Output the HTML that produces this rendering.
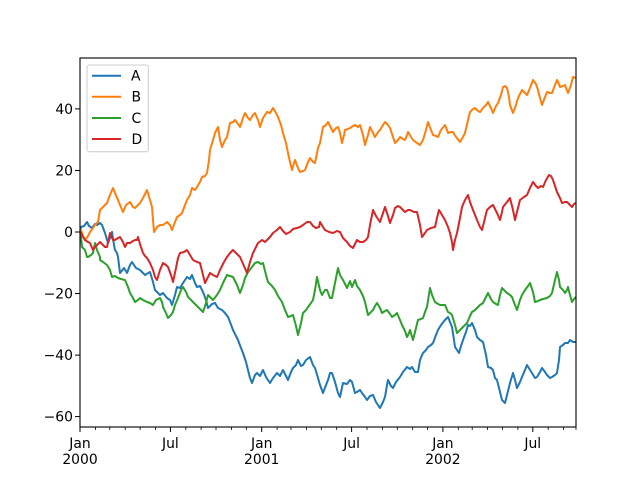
<!DOCTYPE html>
<html><head><meta charset="utf-8"><style>
html,body{margin:0;padding:0;background:#fff;}
svg{display:block;}
text{font-family:"DejaVu Sans","Liberation Sans",sans-serif;font-size:13.9px;fill:#000;}
</style></head><body>
<svg width="640" height="480" viewBox="0 0 640 480" xmlns="http://www.w3.org/2000/svg">
<defs><clipPath id="ax"><rect x="80" y="58" width="496" height="369"/></clipPath></defs>
<rect width="640" height="480" fill="#fff"/>
<g clip-path="url(#ax)" fill="none" stroke-width="2" stroke-linejoin="round" stroke-linecap="square">
<polyline stroke="#1f77b4" points="80,232 81,227 84,226 87,222 89,226 92,228 95,224 97,225 100,223 102,225 105,233 108,243 110,238 112,232 114,245 115,250 117,253 118,257 120,273 124,268 127,273 130,265 132,262 136,268 140,270 143,273 145,275 150,272 153,282 155,290 160,295 163,293 167,298 170,300 172,305 175,295 177,287 180,288 183,283 187,277 190,279 192,275 195,283 197,287 200,286 203,292 206,300 208,308 212,304 215,303 218,308 222,310 225,313 228,317 230,322 233,330 236,336 238,340 241,348 243,353 246,362 248,370 250,378 252,383 255,375 257,373 260,376 263,370 266,377 270,383 273,378 277,373 280,376 283,370 286,376 288,380 291,372 293,368 296,365 298,360 301,366 303,365 306,360 310,357 313,365 315,368 318,378 320,385 323,393 326,385 328,380 330,373 332,373 335,382 338,393 340,397 343,383 347,384 350,380 352,382 355,393 357,392 360,390 362,393 365,397 367,400 370,396 373,395 376,402 380,408 383,402 385,397 387,385 388,380 391,386 393,388 396,382 400,377 403,372 407,367 410,369 412,367 415,372 418,372 420,360 423,353 426,350 428,347 431,345 433,343 436,335 438,330 441,325 445,320 448,317 450,322 452,327 454,340 455,347 457,350 459,353 461,346 463,340 466,332 468,325 470,326 472,323 475,330 477,337 480,340 483,342 486,355 488,367 491,368 493,370 495,378 497,380 500,392 502,400 505,403 507,395 510,383 513,373 515,380 517,388 520,382 522,377 525,370 527,365 530,370 532,373 535,378 537,377 540,372 542,368 545,372 547,375 550,378 552,377 555,375 557,373 559,360 560,347 563,345 565,343 568,343 570,340 573,342 576,342"/>
<polyline stroke="#ff7f0e" points="80,232 81,230 83,236 85,240 88,236 90,232 93,228 95,225 98,222 100,210 103,207 107,203 110,195 113,188 115,193 118,200 120,205 123,212 126,205 130,202 133,207 135,208 138,205 140,203 143,198 147,190 150,200 152,207 153,220 154,232 157,227 160,225 163,225 167,222 170,225 172,230 175,222 177,217 180,215 182,213 185,205 187,200 190,195 192,188 195,190 197,187 200,182 202,177 205,176 207,173 209,160 210,150 213,140 215,133 218,127 220,140 222,147 225,140 227,137 229,128 230,123 233,122 235,120 238,124 240,127 243,118 245,113 248,118 250,120 253,115 255,113 258,120 260,127 263,118 267,112 270,113 273,108 276,113 278,117 281,125 283,133 286,143 288,153 290,162 292,170 294,163 295,160 298,168 300,172 303,171 305,170 308,162 310,158 313,162 315,163 318,148 320,143 323,127 326,125 328,122 331,128 333,132 336,128 338,127 340,133 342,143 344,135 345,130 348,129 350,128 353,126 355,125 358,127 360,125 363,135 365,145 368,135 370,127 373,133 375,137 378,132 380,130 383,125 385,122 388,125 390,128 393,137 395,143 398,140 400,137 403,139 405,140 407,135 408,132 411,137 413,140 417,143 420,145 423,140 426,130 428,122 431,130 433,135 436,136 438,137 441,130 445,125 447,130 448,133 451,132 453,132 456,137 460,142 463,137 465,133 468,120 470,112 473,109 475,108 478,111 480,112 483,108 486,105 488,102 491,108 493,113 496,106 498,103 501,95 503,87 505,86 507,88 509,97 510,105 513,113 516,105 518,98 520,94 522,90 525,93 527,95 530,88 533,80 536,84 538,90 540,98 542,105 545,97 547,92 550,93 552,93 555,85 557,80 559,84 560,87 563,86 565,85 568,93 571,85 573,77 576,78"/>
<polyline stroke="#2ca02c" points="80,232 81,237 82,247 85,250 87,257 88,257 91,255 93,253 95,243 97,250 100,257 100,260 103,262 107,265 110,270 112,277 115,276 118,278 121,279 125,280 128,287 130,293 133,298 135,302 138,300 140,298 143,300 147,302 150,303 153,305 156,300 160,298 162,302 163,307 166,313 168,318 171,315 173,312 175,305 178,298 181,290 183,287 186,292 188,297 191,300 193,302 196,305 198,307 201,310 203,312 206,303 208,295 211,298 213,300 217,295 220,290 223,283 227,275 230,276 233,277 237,285 240,293 243,285 245,278 248,272 252,267 255,263 258,262 261,264 263,263 266,275 268,282 272,286 275,290 278,296 282,302 285,310 288,317 291,316 293,315 296,326 298,335 301,323 303,313 306,310 308,307 311,303 313,300 315,290 317,277 320,290 322,295 325,290 327,290 330,298 332,298 335,283 338,268 340,275 343,280 347,288 350,281 352,287 355,280 357,286 360,290 363,296 365,302 368,315 370,313 373,310 375,306 377,303 380,308 382,313 385,311 387,310 390,314 392,317 395,315 397,313 400,320 402,325 405,331 407,337 409,333 410,330 413,340 416,328 418,320 421,319 423,318 425,312 427,307 430,288 432,295 435,302 438,304 440,305 443,305 445,305 448,312 450,313 452,315 455,325 457,333 460,330 462,328 465,325 467,323 470,316 472,312 475,310 477,308 480,305 483,303 486,297 488,293 491,299 493,302 496,304 498,305 500,295 502,288 505,291 507,293 510,295 512,297 515,305 517,310 520,300 522,295 525,290 528,286 530,283 533,292 535,302 538,301 540,300 543,299 547,298 550,296 552,293 555,280 557,272 559,280 560,287 563,290 565,293 567,290 568,287 570,295 572,302 574,299 576,297"/>
<polyline stroke="#d62728" points="80,232 81,233 83,237 85,240 88,242 90,243 93,250 95,247 98,244 100,242 103,245 105,247 107,247 110,233 113,240 115,240 118,238 120,237 123,242 125,247 127,243 130,243 133,241 135,240 137,240 138,237 140,244 142,250 143,253 145,256 147,258 150,263 153,270 155,277 157,280 160,270 163,263 166,265 168,267 171,275 173,282 176,268 178,258 180,253 184,252 187,250 190,255 193,260 197,262 200,263 203,275 205,283 208,277 210,273 213,275 217,277 220,270 224,262 227,257 230,253 233,250 237,254 240,257 244,266 247,273 250,262 253,253 256,247 258,243 262,240 265,242 267,240 270,237 273,233 277,230 280,227 283,231 286,234 290,232 293,229 297,228 300,227 303,225 307,222 310,222 313,226 316,228 319,227 320,222 323,227 325,230 329,232 333,233 337,231 340,232 343,238 347,242 350,246 353,248 355,244 357,240 360,242 363,242 366,240 368,237 370,225 373,210 376,216 380,222 383,213 385,207 388,216 390,223 393,215 395,208 398,206 400,207 403,210 405,212 408,210 410,210 414,212 417,212 420,225 422,237 425,233 427,230 431,228 435,227 437,218 439,210 442,215 445,220 448,227 450,233 452,242 453,250 455,240 457,233 460,218 462,207 465,200 468,195 470,202 473,210 477,220 480,227 482,230 485,218 487,210 490,207 493,205 497,213 500,220 502,212 503,207 507,202 510,198 513,210 515,220 518,208 520,200 524,197 527,195 530,188 533,182 536,186 538,188 541,186 543,187 546,180 549,175 551,176 553,180 555,186 557,192 560,198 562,203 565,202 567,202 570,205 572,207 574,204 576,203"/>
</g>
<!-- spines -->
<rect x="80" y="58" width="496" height="369" fill="none" stroke="#000" stroke-width="1.1"/>
<!-- y ticks -->
<g stroke="#000" stroke-width="1">
<line x1="75" y1="108.9" x2="80" y2="108.9"/>
<line x1="75" y1="170.5" x2="80" y2="170.5"/>
<line x1="75" y1="232" x2="80" y2="232"/>
<line x1="75" y1="293.5" x2="80" y2="293.5"/>
<line x1="75" y1="355.1" x2="80" y2="355.1"/>
<line x1="75" y1="416.6" x2="80" y2="416.6"/>
</g>
<g text-anchor="end">
<text x="73" y="113.9">40</text>
<text x="73" y="175.5">20</text>
<text x="73" y="237">0</text>
<text x="73" y="298.5">−20</text>
<text x="73" y="360.1">−40</text>
<text x="73" y="421.6">−60</text>
</g>
<!-- x major ticks -->
<g stroke="#000" stroke-width="1">
<line x1="80" y1="427" x2="80" y2="432"/>
<line x1="170.4" y1="427" x2="170.4" y2="432"/>
<line x1="261.7" y1="427" x2="261.7" y2="432"/>
<line x1="351.6" y1="427" x2="351.6" y2="432"/>
<line x1="442.9" y1="427" x2="442.9" y2="432"/>
<line x1="532.8" y1="427" x2="532.8" y2="432"/>
</g>
<g stroke="#000" stroke-width="0.8">
<line x1="95.4" y1="427" x2="95.4" y2="430"/>
<line x1="109.8" y1="427" x2="109.8" y2="430"/>
<line x1="125.2" y1="427" x2="125.2" y2="430"/>
<line x1="140.1" y1="427" x2="140.1" y2="430"/>
<line x1="155.5" y1="427" x2="155.5" y2="430"/>
<line x1="185.8" y1="427" x2="185.8" y2="430"/>
<line x1="201.1" y1="427" x2="201.1" y2="430"/>
<line x1="216" y1="427" x2="216" y2="430"/>
<line x1="231.4" y1="427" x2="231.4" y2="430"/>
<line x1="246.3" y1="427" x2="246.3" y2="430"/>
<line x1="277.1" y1="427" x2="277.1" y2="430"/>
<line x1="291" y1="427" x2="291" y2="430"/>
<line x1="306.4" y1="427" x2="306.4" y2="430"/>
<line x1="321.3" y1="427" x2="321.3" y2="430"/>
<line x1="336.7" y1="427" x2="336.7" y2="430"/>
<line x1="367" y1="427" x2="367" y2="430"/>
<line x1="382.4" y1="427" x2="382.4" y2="430"/>
<line x1="397.3" y1="427" x2="397.3" y2="430"/>
<line x1="412.7" y1="427" x2="412.7" y2="430"/>
<line x1="427.6" y1="427" x2="427.6" y2="430"/>
<line x1="458.3" y1="427" x2="458.3" y2="430"/>
<line x1="472.2" y1="427" x2="472.2" y2="430"/>
<line x1="487.6" y1="427" x2="487.6" y2="430"/>
<line x1="502.5" y1="427" x2="502.5" y2="430"/>
<line x1="517.9" y1="427" x2="517.9" y2="430"/>
<line x1="548.2" y1="427" x2="548.2" y2="430"/>
<line x1="563.6" y1="427" x2="563.6" y2="430"/>
<line x1="576" y1="427" x2="576" y2="430"/>
</g>
<g text-anchor="middle">
<text x="80" y="448">Jan</text>
<text x="80" y="464">2000</text>
<text x="170.4" y="448">Jul</text>
<text x="261.7" y="448">Jan</text>
<text x="261.7" y="464">2001</text>
<text x="351.6" y="448">Jul</text>
<text x="442.9" y="448">Jan</text>
<text x="442.9" y="464">2002</text>
<text x="532.8" y="448">Jul</text>
</g>
<!-- legend -->
<rect x="87" y="65" width="61.3" height="86.7" rx="2.5" fill="#fff" fill-opacity="0.8" stroke="#cccccc" stroke-width="1"/>
<g stroke-width="2" fill="none">
<line x1="92" y1="75.7" x2="121" y2="75.7" stroke="#1f77b4"/>
<line x1="92" y1="96.7" x2="121" y2="96.7" stroke="#ff7f0e"/>
<line x1="92" y1="118" x2="121" y2="118" stroke="#2ca02c"/>
<line x1="92" y1="139" x2="121" y2="139" stroke="#d62728"/>
</g>
<text x="131" y="80.7">A</text>
<text x="131.5" y="101.7">B</text>
<text x="131.5" y="123">C</text>
<text x="131.5" y="144">D</text>
</svg>
</body></html>
